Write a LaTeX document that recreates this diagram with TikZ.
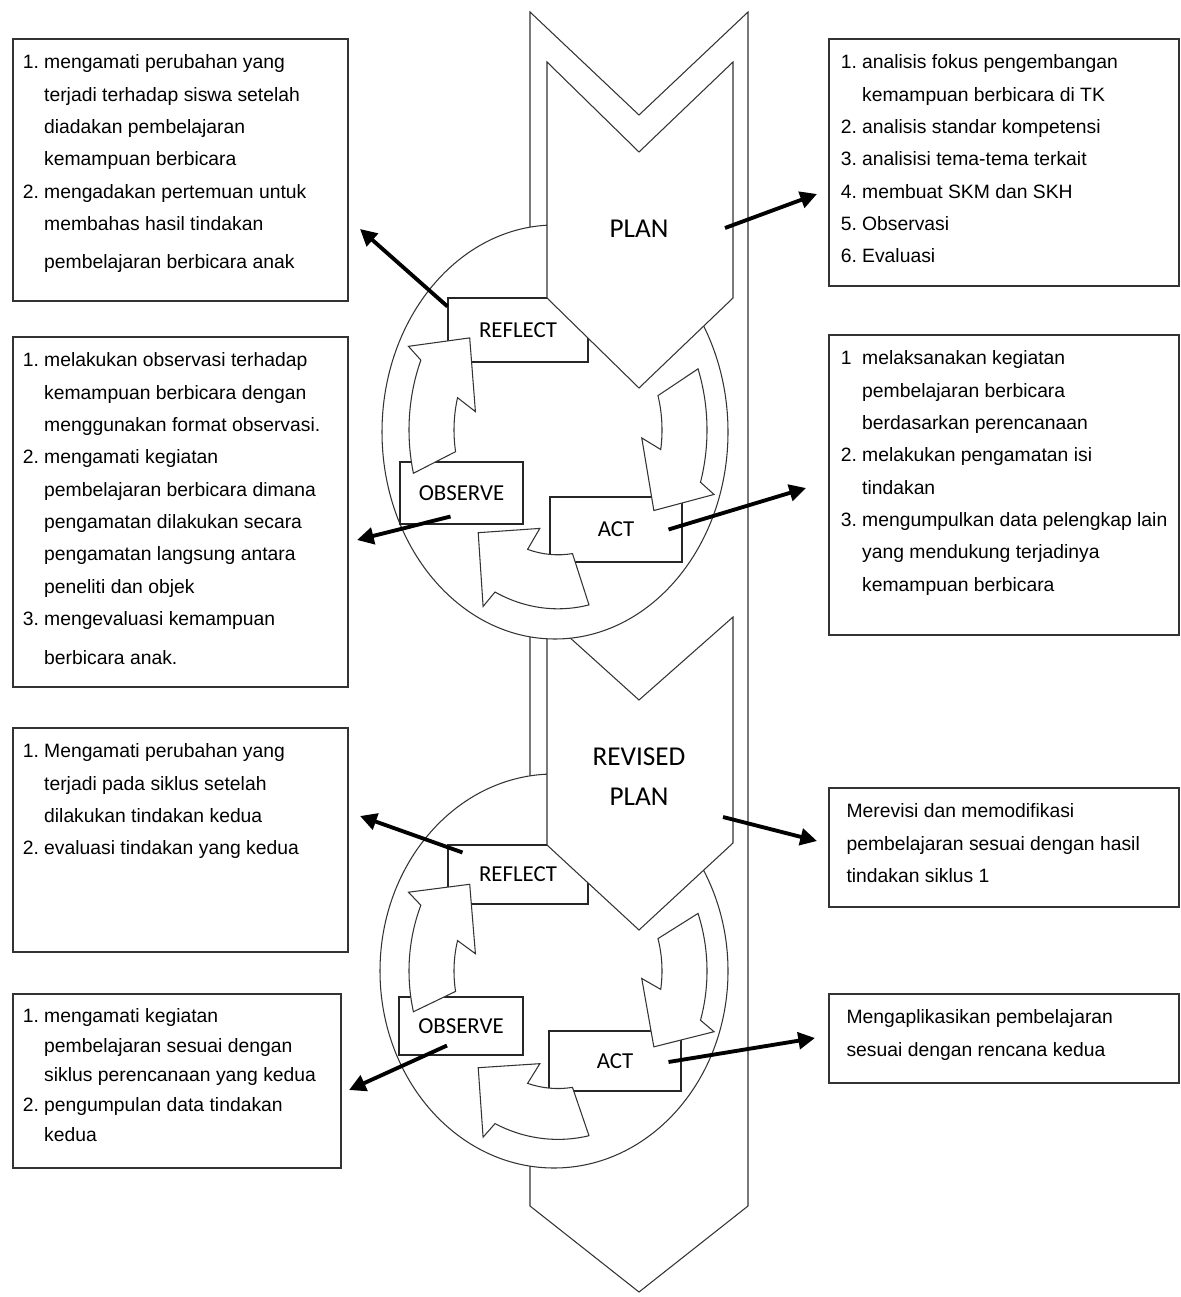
\documentclass[tikz,border=0pt]{standalone}
\usepackage{fontspec}
\setmainfont{Liberation Sans}
\newfontfamily\labelfont{Carlito}
\usetikzlibrary{arrows.meta,calc}

% nummerierte Liste in einem Kasten fester Groesse
\newcommand{\steplist}[3]{\parbox[c][#2][t]{#1}{\begin{tabular}{@{}l@{\hspace{3pt}}l@{}}#3\end{tabular}}}
% gebogener Blockpfeil, #1 = Winkel am Schwanz
\newcommand{\cyclearrow}[1]{%
  \draw[band] (#1:149) arc[start angle=#1, end angle=#1-37, radius=149]
    -- (#1-39:165) -- (#1-55:117) -- (#1-24.5:84) -- (#1-29:104)
    arc[start angle=#1-29, end angle=#1-4, radius=104] -- cycle;}

\begin{document}
\begin{tikzpicture}[x=0.02cm, y=-0.02cm]
  \tikzset{
    outline/.style={draw=black!80, line width=0.6pt, fill=white},
    band/.style={outline, line join=miter},
    stage/.style={draw=black!85, line width=0.6pt, fill=white, inner sep=0pt,
      font=\labelfont\fontsize{13}{15}\selectfont},
    infobox/.style={draw=black!80, line width=0.9pt, anchor=north west,
      inner xsep=0.2cm, inner ysep=0.15cm, font=\fontsize{11}{18.4}\selectfont},
    link/.style={line width=2.2pt, -{Triangle[length=9.5pt,width=9.5pt]}}
  }
  \useasboundingbox (0,0) rectangle (1180,1297);

  % Rahmenpfeil
  \draw[outline] (530,12) -- (639,115) -- (748,12) -- (748,1206) -- (639,1292) -- (530,1206) -- cycle;

  % --- Zyklus 2 ---
  \draw[outline] (554,971) ellipse [x radius=174, y radius=197];
  \node[stage, minimum width=2.8cm, minimum height=1.18cm] (reflectB) at (518,874.5) {REFLECT};
  \node[stage, minimum width=2.48cm, minimum height=1.16cm] (observeB) at (461,1026) {OBSERVE};
  \node[stage, minimum width=2.64cm, minimum height=1.2cm] (actB) at (615,1061) {ACT};
  \begin{scope}[shift={(558,971)}, yscale=-1.13]
    \foreach \t in {194,20,-78} {\cyclearrow{\t}}
  \end{scope}
  \draw[outline] (547,617) -- (639,700) -- (733,617) -- (733,843) -- (639,930) -- (547,845) -- cycle;
  \node[font=\labelfont\fontsize{15.5}{22.7}\selectfont, align=center] (revplan) at (639,777) {REVISED\\PLAN};

  % --- Zyklus 1 ---
  \draw[outline] (555,432) ellipse [x radius=173, y radius=207];
  \node[stage, minimum width=2.8cm, minimum height=1.28cm] (reflect) at (518,330) {REFLECT};
  \node[stage, minimum width=2.46cm, minimum height=1.24cm] (observe) at (461.5,493) {OBSERVE};
  \node[stage, minimum width=2.64cm, minimum height=1.3cm] (act) at (616,529.5) {ACT};
  \begin{scope}[shift={(558,430)}, yscale=-1.2]
    \foreach \t in {194,20,-78} {\cyclearrow{\t}}
  \end{scope}
  \draw[outline] (547,62) -- (639,152) -- (733,62) -- (733,298) -- (639,388) -- (547,298) -- cycle;
  \node[font=\labelfont\fontsize{15.5}{22.7}\selectfont] (plan) at (639,229) {PLAN};

  % --- Kaesten links ---
  \node[infobox] (reflectText) at (12,38) {\steplist{6.3cm}{4.94cm}{%
    1. & mengamati perubahan yang\\
       & terjadi terhadap siswa setelah\\
       & diadakan pembelajaran\\
       & kemampuan berbicara\\
    2. & mengadakan pertemuan untuk\\
       & membahas hasil tindakan\\[3pt]
       & pembelajaran berbicara anak}};
  \node[infobox] (observeText) at (12,336) {\steplist{6.3cm}{6.7cm}{%
    1. & melakukan observasi terhadap\\
       & kemampuan berbicara dengan\\
       & menggunakan format observasi.\\
    2. & mengamati kegiatan\\
       & pembelajaran berbicara dimana\\
       & pengamatan dilakukan secara\\
       & pengamatan langsung antara\\
       & peneliti dan objek\\
    3. & mengevaluasi kemampuan\\[3.5pt]
       & berbicara anak.}};
  \node[infobox] (reflectTextB) at (12,727) {\steplist{6.3cm}{4.18cm}{%
    1. & Mengamati perubahan yang\\
       & terjadi pada siklus setelah\\
       & dilakukan tindakan kedua\\
    2. & evaluasi tindakan yang kedua}};
  \node[infobox, font=\fontsize{11}{17}\selectfont] (observeTextB) at (12,993) {\steplist{6.16cm}{3.18cm}{%
    1. & mengamati kegiatan\\
       & pembelajaran sesuai dengan\\
       & siklus perencanaan yang kedua\\
    2. & pengumpulan data tindakan\\
       & kedua}};

  % --- Kaesten rechts ---
  \node[infobox, inner xsep=0.24cm] (planText) at (828,38) {\steplist{6.52cm}{4.64cm}{%
    1. & analisis fokus pengembangan\\
       & kemampuan berbicara di TK\\
    2. & analisis standar kompetensi\\
    3. & analisisi tema-tema terkait\\
    4. & membuat SKM dan SKH\\
    5. & Observasi\\
    6. & Evaluasi}};
  \node[infobox, inner xsep=0.24cm] (actText) at (828,334) {\steplist{6.52cm}{5.7cm}{%
    1  & melaksanakan kegiatan\\
       & pembelajaran berbicara\\
       & berdasarkan perencanaan\\
    2. & melakukan pengamatan isi\\
       & tindakan\\
    3. & mengumpulkan data pelengkap lain\\
       & yang mendukung terjadinya\\
       & kemampuan berbicara}};
  \node[infobox, inner xsep=0.25cm] (revplanText) at (828,787) {\steplist{6.5cm}{2.08cm}{%
       & Merevisi dan memodifikasi\\
       & pembelajaran sesuai dengan hasil\\
       & tindakan siklus 1}};
  \node[infobox, inner xsep=0.25cm] (actTextB) at (828,993) {\steplist{6.5cm}{1.48cm}{%
       & Mengaplikasikan pembelajaran\\
       & sesuai dengan rencana kedua}};

  % --- Pfeile zu den Kaesten ---
  \coordinate (planTip) at (817,194);
  \coordinate (reflectTip) at (360,229);
  \coordinate (observeTip) at (357,540);
  \coordinate (actTip) at (806,488);
  \coordinate (revplanTip) at (817,841);
  \coordinate (reflectTipB) at (360,816);
  \coordinate (observeTipB) at (349,1090);
  \coordinate (actTipB) at (815,1038);
  \draw[link] ($(plan)+(86,-1)$) -- (planTip);
  \draw[link] ($(reflect.north west)+(0,9)$) -- (reflectTip);
  \draw[link] ($(observe.south)+(-11,-8)$) -- (observeTip);
  \draw[link] ($(act.east)+(-14,0)$) -- (actTip);
  \draw[link] ($(revplan)+(84,40)$) -- (revplanTip);
  \draw[link] ($(reflectB.north west)+(15,8)$) -- (reflectTipB);
  \draw[link] ($(observeB.south)+(-14,-10)$) -- (observeTipB);
  \draw[link] ($(actB.east)+(-13,1)$) -- (actTipB);
\end{tikzpicture}
\end{document}
